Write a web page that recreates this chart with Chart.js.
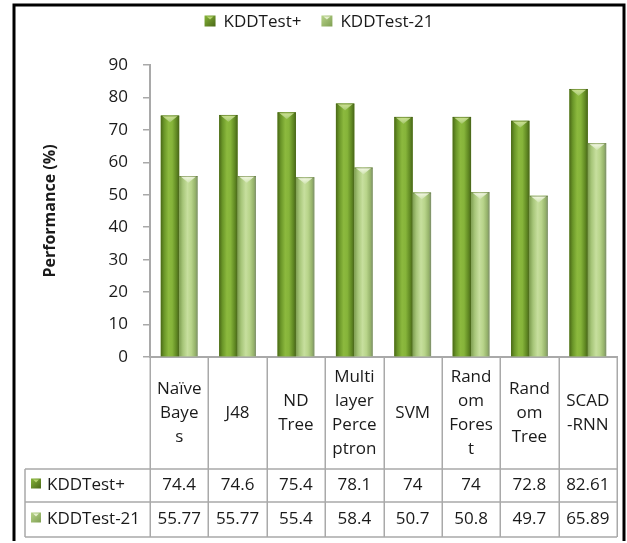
<!DOCTYPE html>
<html>
<head>
<meta charset="utf-8">
<script src="https://cdn.jsdelivr.net/npm/chart.js@4"></script>
<style>
  html, body { margin: 0; padding: 0; background: #fff; }
  #wrap { width: 627px; height: 543px; position: relative; }
  canvas { display: block; }
</style>
</head>
<body>
<div id="wrap"><canvas id="chart" width="627" height="543"></canvas></div>
<script>
// Classifier names, wrapped the way they appear in the table header cells
const categories = [
  ["Naïve", "Baye", "s"],
  ["J48"],
  ["ND", "Tree"],
  ["Multi", "layer", "Perce", "ptron"],
  ["SVM"],
  ["Rand", "om", "Fores", "t"],
  ["Rand", "om", "Tree"],
  ["SCAD", "-RNN"]
];
const seriesNames = ["KDDTest+", "KDDTest-21"];
const kddTestPlus = [74.4, 74.6, 75.4, 78.1, 74, 74, 72.8, 82.61];
const kddTest21 = [55.77, 55.77, 55.4, 58.4, 50.7, 50.8, 49.7, 65.89];
const yTickValues = [0, 10, 20, 30, 40, 50, 60, 70, 80, 90];

const FONT = '"Open Sans", "Noto Sans", sans-serif';
const TEXT = '#1a1a1a';
const LINE = '#a9a9a9';

// Cylinder shading palettes (left edge -> right edge)
const shades = [
  { stops: [[0, '#4a6817'], [0.18, '#6a9628'], [0.42, '#8cb93e'], [0.62, '#86b43a'], [0.86, '#5f8722'], [1, '#48641a']],
    cap: '#c6e07e', flat: '#76a32f' },
  { stops: [[0, '#7f9f52'], [0.2, '#a7c679'], [0.45, '#c7df9e'], [0.66, '#b8d48a'], [0.88, '#95b26a'], [1, '#7d8d6c']],
    cap: '#f5fae4', flat: '#b0cd84' }
];

function hGradient(ctx, x0, x1, stops) {
  const g = ctx.createLinearGradient(x0, 0, x1, 0);
  stops.forEach(s => g.addColorStop(s[0], s[1]));
  return g;
}

function drawKey(ctx, x, y, size, idx) {
  const p = shades[idx];
  ctx.save();
  const g = ctx.createLinearGradient(x, y, x + size, y + size);
  g.addColorStop(0, p.stops[3][1]);
  g.addColorStop(1, p.stops[0][1]);
  ctx.fillStyle = g;
  ctx.fillRect(x, y, size, size);
  ctx.fillStyle = p.cap;
  ctx.globalAlpha = 0.8;
  ctx.beginPath();
  ctx.moveTo(x + 2, y + 1);
  ctx.lineTo(x + size - 2, y + 1);
  ctx.lineTo(x + size / 2, y + 4);
  ctx.closePath();
  ctx.fill();
  ctx.restore();
}

// Paint each bar as a shaded cylinder with a bright top cap
const cylinderPlugin = {
  id: 'cylinder',
  afterDatasetsDraw(chart) {
    const ctx = chart.ctx;
    const area = chart.chartArea;
    ctx.save();
    ctx.beginPath();
    ctx.rect(area.left, area.top - 10, area.right - area.left, area.bottom - area.top + 10);
    ctx.clip();
    chart.data.datasets.forEach((ds, di) => {
      const meta = chart.getDatasetMeta(di);
      const p = shades[di];
      meta.data.forEach(bar => {
        const { x, y, base, width } = bar.getProps(['x', 'y', 'base', 'width'], true);
        const l = x - width / 2, r = x + width / 2;
        ctx.fillStyle = hGradient(ctx, l, r, p.stops);
        ctx.fillRect(l, y, width, base - y);
        // top cap highlight
        const cg = ctx.createLinearGradient(0, y, 0, y + 7);
        cg.addColorStop(0, p.cap);
        cg.addColorStop(1, 'rgba(255,255,255,0.15)');
        ctx.fillStyle = cg;
        ctx.beginPath();
        ctx.moveTo(l + 1.5, y + 0.5);
        ctx.lineTo(r - 1.5, y + 0.5);
        ctx.lineTo(x + width * 0.12, y + 5);
        ctx.lineTo(x, y + 7);
        ctx.lineTo(x - width * 0.12, y + 5);
        ctx.closePath();
        ctx.fill();
        ctx.strokeStyle = 'rgba(60,80,20,0.35)';
        ctx.lineWidth = 1;
        ctx.beginPath();
        ctx.moveTo(l, y + 0.5);
        ctx.lineTo(r, y + 0.5);
        ctx.stroke();
      });
    });
    ctx.restore();
  }
};

// Legend, data table and outer frame
const framePlugin = {
  id: 'frameAndTable',
  afterDraw(chart) {
    const ctx = chart.ctx;
    const xs = chart.scales.x;
    const area = chart.chartArea;
    const n = categories.length;
    const catW = (xs.right - xs.left) / n;
    const frame = { left: 14, right: 624, top: 5, bottom: 541 };

    ctx.save();
    // outer frame
    ctx.strokeStyle = '#000';
    ctx.lineWidth = 3;
    ctx.beginPath();
    ctx.moveTo(frame.left, frame.bottom);
    ctx.lineTo(frame.left, frame.top);
    ctx.lineTo(frame.right, frame.top);
    ctx.lineTo(frame.right, frame.bottom);
    ctx.stroke();

    // legend
    ctx.font = '17px ' + FONT;
    ctx.textBaseline = 'middle';
    ctx.textAlign = 'left';
    const key = 11, gapKey = 8, gapItem = 20;
    const widths = seriesNames.map(s => key + gapKey + ctx.measureText(s).width);
    const total = widths.reduce((a, b) => a + b, 0) + gapItem * (widths.length - 1);
    let lx = (frame.left + frame.right) / 2 - total / 2;
    const ly = 22;
    seriesNames.forEach((s, i) => {
      drawKey(ctx, lx, ly - key / 2 - 1, key, i);
      ctx.fillStyle = TEXT;
      ctx.fillText(s, lx + key + gapKey, ly);
      lx += widths[i] + gapItem;
    });

    // data table
    const top = area.bottom;
    const headBottom = 469;
    const rowBottoms = [502, 537];
    const tableLeft = 25;
    ctx.strokeStyle = LINE;
    ctx.lineWidth = 1.5;
    ctx.beginPath();
    for (let i = 0; i <= n; i++) {
      const bx = Math.round(xs.left + i * catW) + 0.25;
      ctx.moveTo(bx, top);
      ctx.lineTo(bx, rowBottoms[rowBottoms.length - 1]);
    }
    ctx.moveTo(tableLeft, headBottom);
    ctx.lineTo(tableLeft, rowBottoms[rowBottoms.length - 1]);
    [headBottom].concat(rowBottoms).forEach(yy => {
      ctx.moveTo(tableLeft, yy);
      ctx.lineTo(xs.right, yy);
    });
    ctx.stroke();

    // header cells
    ctx.fillStyle = TEXT;
    ctx.textAlign = 'center';
    const lh = 24;
    const headMid = (top + headBottom) / 2;
    categories.forEach((lines, i) => {
      const cx = xs.getPixelForValue(i);
      const y0 = headMid - (lines.length - 1) * lh / 2;
      lines.forEach((t, k) => ctx.fillText(t, cx, y0 + k * lh));
    });

    // value rows
    const seriesData = [kddTestPlus, kddTest21];
    let rowTop = headBottom;
    seriesData.forEach((vals, r) => {
      const mid = (rowTop + rowBottoms[r]) / 2;
      drawKey(ctx, 31, mid - 7, 10, r);
      ctx.textAlign = 'left';
      ctx.fillStyle = TEXT;
      ctx.fillText(seriesNames[r], 47, mid);
      ctx.textAlign = 'center';
      vals.forEach((v, i) => ctx.fillText(String(v), xs.getPixelForValue(i), mid));
      rowTop = rowBottoms[r];
    });
    ctx.restore();
  }
};

new Chart(document.getElementById('chart'), {
  type: 'bar',
  data: {
    labels: categories,
    datasets: [
      { label: seriesNames[0], data: kddTestPlus, backgroundColor: shades[0].flat, borderWidth: 0 },
      { label: seriesNames[1], data: kddTest21, backgroundColor: shades[1].flat, borderWidth: 0 }
    ]
  },
  options: {
    responsive: false,
    animation: false,
    devicePixelRatio: 1,
    layout: { padding: { top: 65, left: 17, right: 10, bottom: 186 } },
    datasets: { bar: { categoryPercentage: 0.63, barPercentage: 1.0 } },
    plugins: { legend: { display: false }, tooltip: { enabled: false } },
    scales: {
      x: {
        grid: { display: false },
        ticks: { display: false },
        border: { display: true, color: LINE, width: 2 },
        afterFit: s => { s.height = 0; }
      },
      y: {
        min: 0,
        max: 90,
        afterBuildTicks: s => { s.ticks = yTickValues.map(v => ({ value: v })); },
        afterFit: s => { s.width = 133; },
        grid: { display: true, drawOnChartArea: false, drawTicks: true, tickLength: 7, color: LINE, lineWidth: 1.5 },
        border: { display: true, color: LINE, width: 2 },
        ticks: { color: TEXT, font: { family: FONT, size: 17 }, padding: 15 },
        title: {
          display: true,
          text: 'Performance (%)',
          color: TEXT,
          font: { family: FONT, size: 16, weight: 'bold' },
          padding: { top: 24, bottom: 0 }
        }
      }
    }
  },
  plugins: [cylinderPlugin, framePlugin]
});
</script>
</body>
</html>
